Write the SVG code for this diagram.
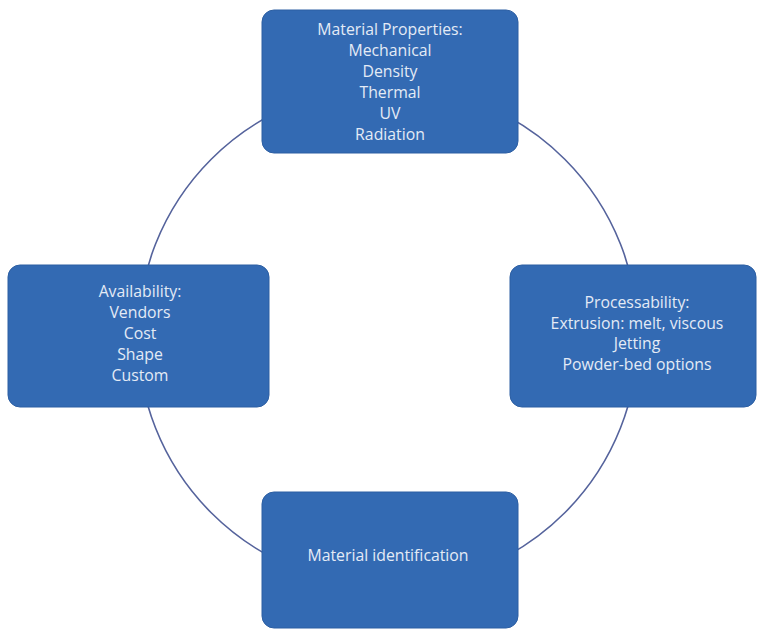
<svg xmlns="http://www.w3.org/2000/svg" width="757" height="630" viewBox="0 0 757 630">
<style>
.box{fill:#336ab3;stroke:#2d5fa3;stroke-width:1}
.t{font-family:"Open Sans","Liberation Sans",sans-serif;font-size:15.8px;fill:#e4ebf6;text-anchor:middle}
.c{fill:none;stroke:#55639c;stroke-width:1.6}
</style>
<rect width="757" height="630" fill="#ffffff"/>
<g id="connectors">
<circle class="c" cx="388" cy="336" r="250"/>
</g>
<g id="node-properties">
<rect class="box" x="262" y="10" width="256" height="143" rx="12"/>
<text class="t" x="390" y="35">Material Properties:</text>
<text class="t" x="390" y="56">Mechanical</text>
<text class="t" x="390" y="77">Density</text>
<text class="t" x="390" y="98">Thermal</text>
<text class="t" x="390" y="119">UV</text>
<text class="t" x="390" y="140">Radiation</text>
</g>
<g id="node-availability">
<rect class="box" x="8" y="265" width="261" height="142" rx="12"/>
<text class="t" x="140" y="297">Availability:</text>
<text class="t" x="140" y="318">Vendors</text>
<text class="t" x="140" y="339">Cost</text>
<text class="t" x="140" y="360">Shape</text>
<text class="t" x="140" y="381">Custom</text>
</g>
<g id="node-processability">
<rect class="box" x="510" y="265" width="246" height="142" rx="12"/>
<text class="t" x="637" y="308">Processability:</text>
<text class="t" x="637" y="329">Extrusion: melt, viscous</text>
<text class="t" x="637" y="349">Jetting</text>
<text class="t" x="637" y="370">Powder-bed options</text>
</g>
<g id="node-identification">
<rect class="box" x="262" y="492" width="256" height="136" rx="12"/>
<text class="t" x="388" y="561">Material identification</text>
</g>
</svg>
